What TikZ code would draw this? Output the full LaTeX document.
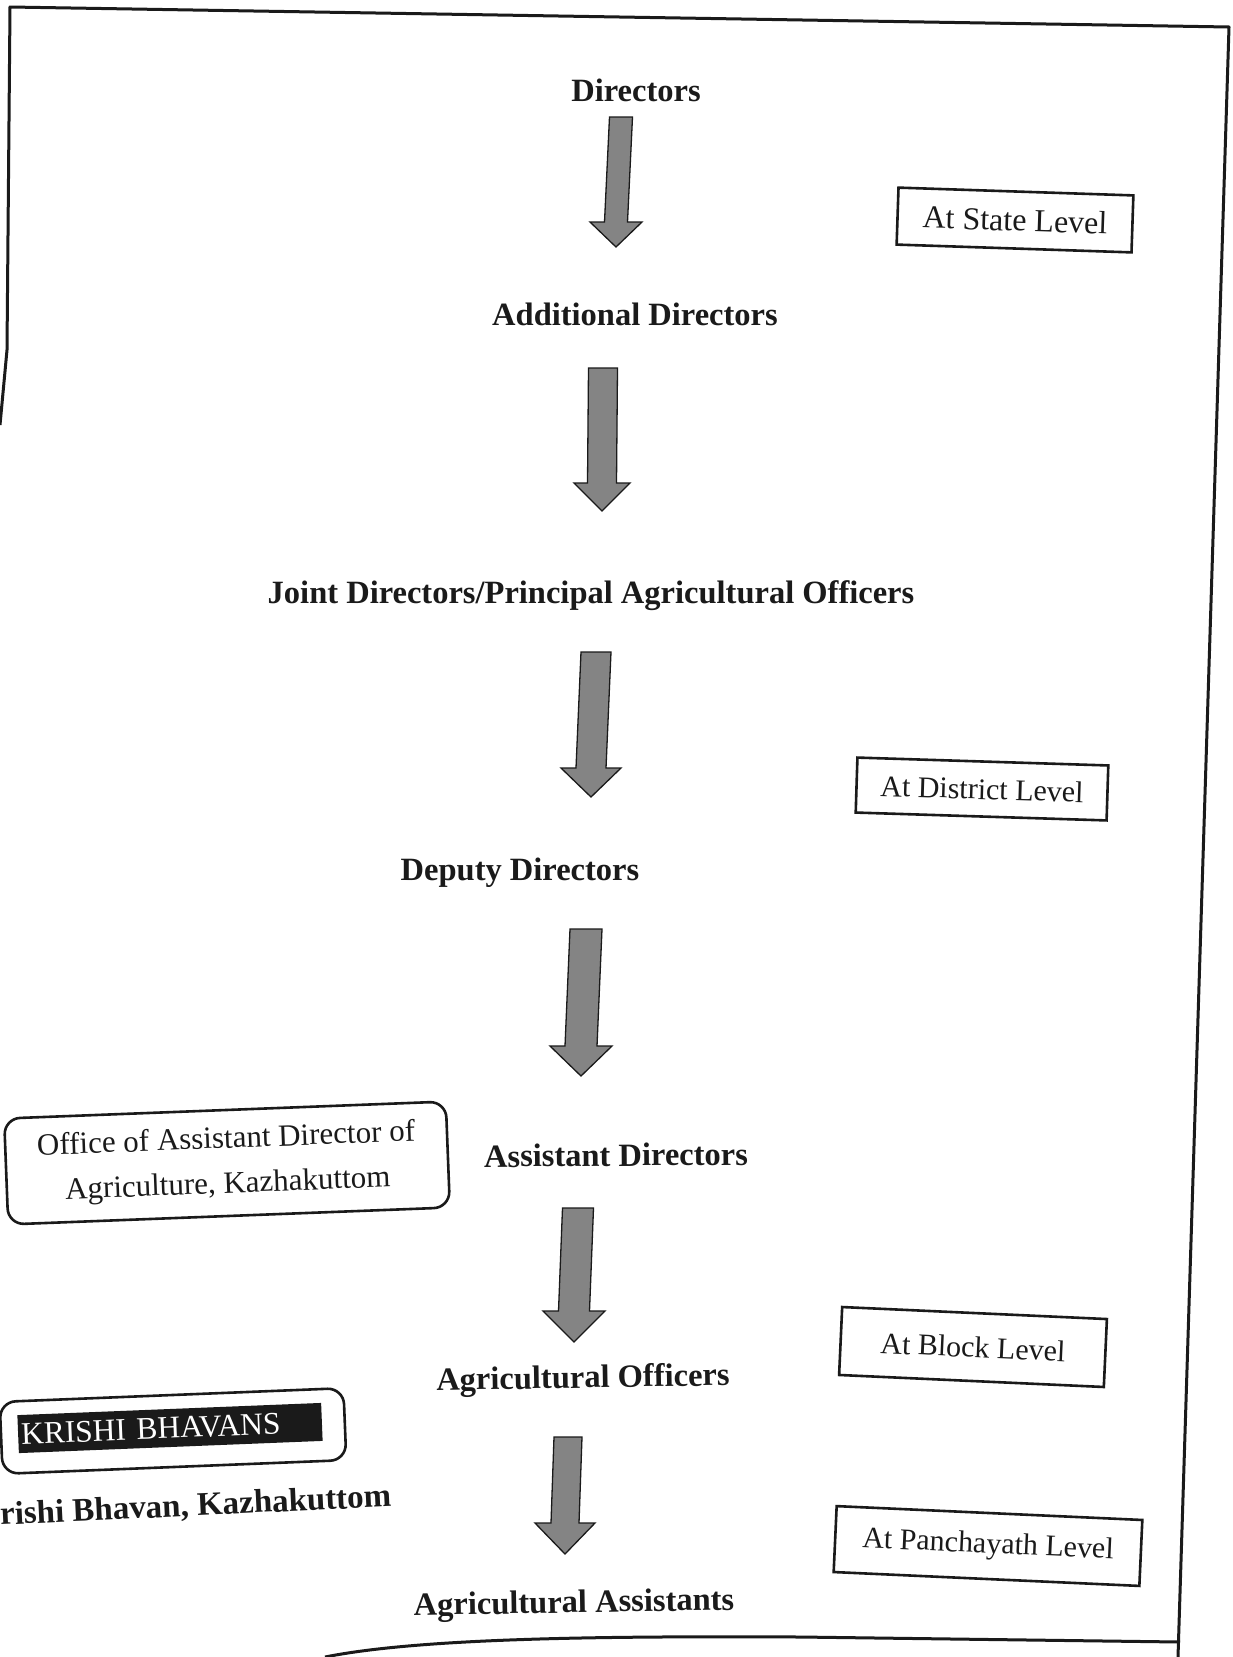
\documentclass[tikz,border=0pt]{standalone}
\usepackage{fontspec}
\setmainfont{Liberation Serif}
\usetikzlibrary{calc}
\definecolor{arrgray}{HTML}{848484}
\definecolor{ink}{HTML}{1A1A1A}
\begin{document}
\begin{tikzpicture}[x=1pt,y=-1pt,
  mainlbl/.style={font=\fontsize{32.5}{38}\selectfont\bfseries, inner sep=0pt, text=ink},
  lvlbox/.style={draw=ink, line width=2.6pt, text=ink, inner sep=0pt},
  rbox/.style={draw=ink, line width=2.6pt, rounded corners=16pt, text=ink},
  blockarr/.style n args={3}{fill=arrgray, draw=ink, line width=1.3pt, line join=miter,
    to path={let \p1=(\tikztostart), \p2=(\tikztotarget) in
      (\x1-#1,\y1) -- (\x1+#1,\y1) -- (\x2+#1,\y2+#3) -- (\x2+#2,\y2+#3) -- (\x2,\y2)
      -- (\x2-#2,\y2+#3) -- (\x2-#1,\y2+#3) -- cycle}}
]
\useasboundingbox (0,0) rectangle (1232,1657);
\fill[white] (0,0) rectangle (1232,1657);

% page frame
\draw[ink, line width=3pt, line join=round] (0,425) -- (7,350) -- (10,7) -- (1229,27) -- (1178,1657);
\draw[ink, line width=3pt] (325,1657) .. controls (420,1638) and (600,1636) .. (800,1637) -- (1180,1642);

% main hierarchy
\node[mainlbl] (dir)   at (636,90)   {Directors};
\node[mainlbl] (add)   at (635,314)  {Additional Directors};
\node[mainlbl] (joint) at (591,596)  {Joint Directors/Principal Agricultural Officers};
\node[mainlbl] (dep)   at (520,873)  {Deputy Directors};
\node[mainlbl, rotate=0.5] (asst)  at (616,1155) {Assistant Directors};
\node[mainlbl, rotate=1] (ao)    at (583,1380) {Agricultural Officers};
\node[mainlbl, rotate=1] (aa)    at (574,1605) {Agricultural Assistants};

% arrows
\coordinate (a1s) at (621,117);  \coordinate (a1e) at (616,247);
\coordinate (a2s) at (603,368);  \coordinate (a2e) at (602,511);
\coordinate (a3s) at (596,652);  \coordinate (a3e) at (591,797);
\coordinate (a4s) at (586,929);  \coordinate (a4e) at (581,1076);
\coordinate (a5s) at (578,1208); \coordinate (a5e) at (574,1342);
\coordinate (a6s) at (568,1437); \coordinate (a6e) at (565,1554);
\draw[blockarr={11.5pt}{26pt}{25pt}] (a1s) to (a1e);
\draw[blockarr={14.5pt}{28pt}{28pt}] (a2s) to (a2e);
\draw[blockarr={15pt}{30pt}{29pt}] (a3s) to (a3e);
\draw[blockarr={16pt}{31pt}{30pt}] (a4s) to (a4e);
\draw[blockarr={15.5pt}{31pt}{31pt}] (a5s) to (a5e);
\draw[blockarr={14pt}{30pt}{31pt}] (a6s) to (a6e);

% level boxes
\node[lvlbox, minimum width=235pt, minimum height=57pt, rotate=-1.9, font=\fontsize{32}{38}\selectfont] (state) at (1015,220) {At State Level};
\node[lvlbox, minimum width=251pt, minimum height=55pt, rotate=-1.8, font=\fontsize{30}{36}\selectfont] (district) at (982,789) {At District Level};
\node[lvlbox, minimum width=265pt, minimum height=68pt, rotate=-2.6, font=\fontsize{30}{36}\selectfont] (block) at (973,1347) {At Block Level};
\node[lvlbox, minimum width=306pt, minimum height=66pt, rotate=-2.6, font=\fontsize{30}{36}\selectfont] (panch) at (988,1546) {At Panchayath Level};

% left boxes
\node[rbox, minimum width=442pt, minimum height=106pt, rotate=2.2, align=center, font=\fontsize{31}{45}\selectfont] (office) at (227,1163) {Office of Assistant Director of\\Agriculture, Kazhakuttom};
\node[rbox, minimum width=344pt, minimum height=72pt, rotate=2.3] (kbox) at (173,1431) {};
\node[fill=ink, text=white, rotate=2.3, minimum height=38pt, text width=298pt, inner xsep=3pt, inner ysep=0pt, align=left, font=\fontsize{31.5}{36}\selectfont] (kb) at (170,1428) {KRISHI BHAVANS};
\node[mainlbl, font=\fontsize{33}{40}\selectfont\bfseries, anchor=west, rotate=2.7] (kbk) at (0,1516) {rishi Bhavan, Kazhakuttom};
\end{tikzpicture}
\end{document}
